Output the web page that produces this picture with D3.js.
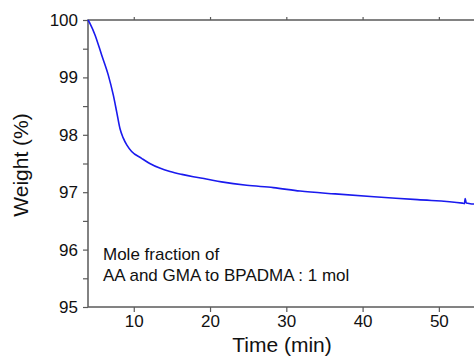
<!DOCTYPE html>
<html>
<head>
<meta charset="utf-8">
<script src="https://cdn.jsdelivr.net/npm/d3@7"></script>
<style>
  body { margin: 0; background: #fff; }
  svg { display: block; font-family: "Liberation Sans", Arial, sans-serif; }
</style>
</head>
<body>
<div id="chart"></div>
<script>
// TGA curve
const timeMin = [4, 4.3, 4.92, 5.79, 6.66, 7.32, 7.76, 8.19, 8.6, 9.1, 9.72, 11.03, 12.1, 13.4, 14.75, 16.3, 17.8, 19.5, 21.5, 24.8, 28.3, 31.8, 36.4, 41.5, 47.2, 53.1, 53.35, 53.45, 53.6, 54.1, 55];
const weightPct = [100, 99.93, 99.74, 99.39, 99.04, 98.69, 98.40, 98.11, 97.95, 97.82, 97.71, 97.59, 97.50, 97.42, 97.36, 97.31, 97.27, 97.23, 97.18, 97.12, 97.08, 97.02, 96.97, 96.92, 96.87, 96.81, 96.80, 96.89, 96.81, 96.80, 96.79];
const xTicks = [10, 20, 30, 40, 50];
const yTicks = [95, 96, 97, 98, 99, 100];
const yMinor = [95.5, 96.5, 97.5, 98.5, 99.5];
const noteLines = ["Mole fraction of", "AA and GMA to BPADMA : 1 mol"];

function init() {
    const w = 474, h = 364;
    const left = 88, top = 20, right = 477, bottom = 307;
    const axisColor = "#5a5a5a";

    const svg = d3.select("#chart").append("svg")
        .attr("width", w)
        .attr("height", h);

    const x = d3.scaleLinear().domain([4, 55]).range([left, right]);
    const y = d3.scaleLinear().domain([95, 100]).range([bottom, top]);

    // frame (right edge falls outside the window)
    svg.append("rect")
        .attr("x", left).attr("y", top)
        .attr("width", right - left).attr("height", bottom - top)
        .attr("fill", "none")
        .attr("stroke", axisColor)
        .attr("stroke-width", 1.5);

    svg.append("g")
        .attr("transform", `translate(0,${bottom})`)
        .call(d3.axisBottom(x).tickValues(xTicks).tickFormat(d3.format("d")).tickSize(5).tickPadding(3));

    svg.append("g")
        .attr("transform", `translate(0,${top})`)
        .call(d3.axisTop(x).tickValues(xTicks).tickSize(3).tickFormat(""));

    svg.append("g")
        .attr("transform", `translate(${left},0)`)
        .call(d3.axisLeft(y).tickValues(yTicks).tickFormat(d3.format("d")).tickSize(5).tickPadding(5));

    svg.append("g")
        .attr("transform", `translate(${left},0)`)
        .call(d3.axisLeft(y).tickValues(yMinor).tickSize(5).tickFormat(""));

    svg.selectAll(".domain").remove();
    svg.selectAll(".tick line").attr("stroke", axisColor).attr("stroke-width", 1.2);
    svg.selectAll(".tick text")
        .attr("fill", "#111")
        .style("font-size", "17px")
        .style("font-family", "'Liberation Sans', Arial, sans-serif");

    // curve
    const line = d3.line()
        .x((d, i) => x(timeMin[i]))
        .y(d => y(d))
        .curve(d3.curveMonotoneX);

    svg.append("path")
        .datum(weightPct)
        .attr("d", line)
        .attr("fill", "none")
        .attr("stroke", "#1a1aee")
        .attr("stroke-width", 1.6);

    // axis titles
    svg.append("text")
        .attr("x", 282)
        .attr("y", 352)
        .attr("text-anchor", "middle")
        .style("font-size", "21px")
        .attr("fill", "#111")
        .text("Time (min)");

    svg.append("text")
        .attr("transform", "translate(28,165) rotate(-90)")
        .attr("text-anchor", "middle")
        .style("font-size", "21px")
        .attr("fill", "#111")
        .text("Weight (%)");

    // note
    svg.append("text")
        .attr("x", 103)
        .attr("y", 260)
        .style("font-size", "17px")
        .attr("fill", "#111")
        .selectAll("tspan")
        .data(noteLines)
        .enter()
        .append("tspan")
        .attr("x", 103)
        .attr("dy", (d, i) => i === 0 ? 0 : 21)
        .text(d => d);
}

window.addEventListener('load', init);
</script>
</body>
</html>
